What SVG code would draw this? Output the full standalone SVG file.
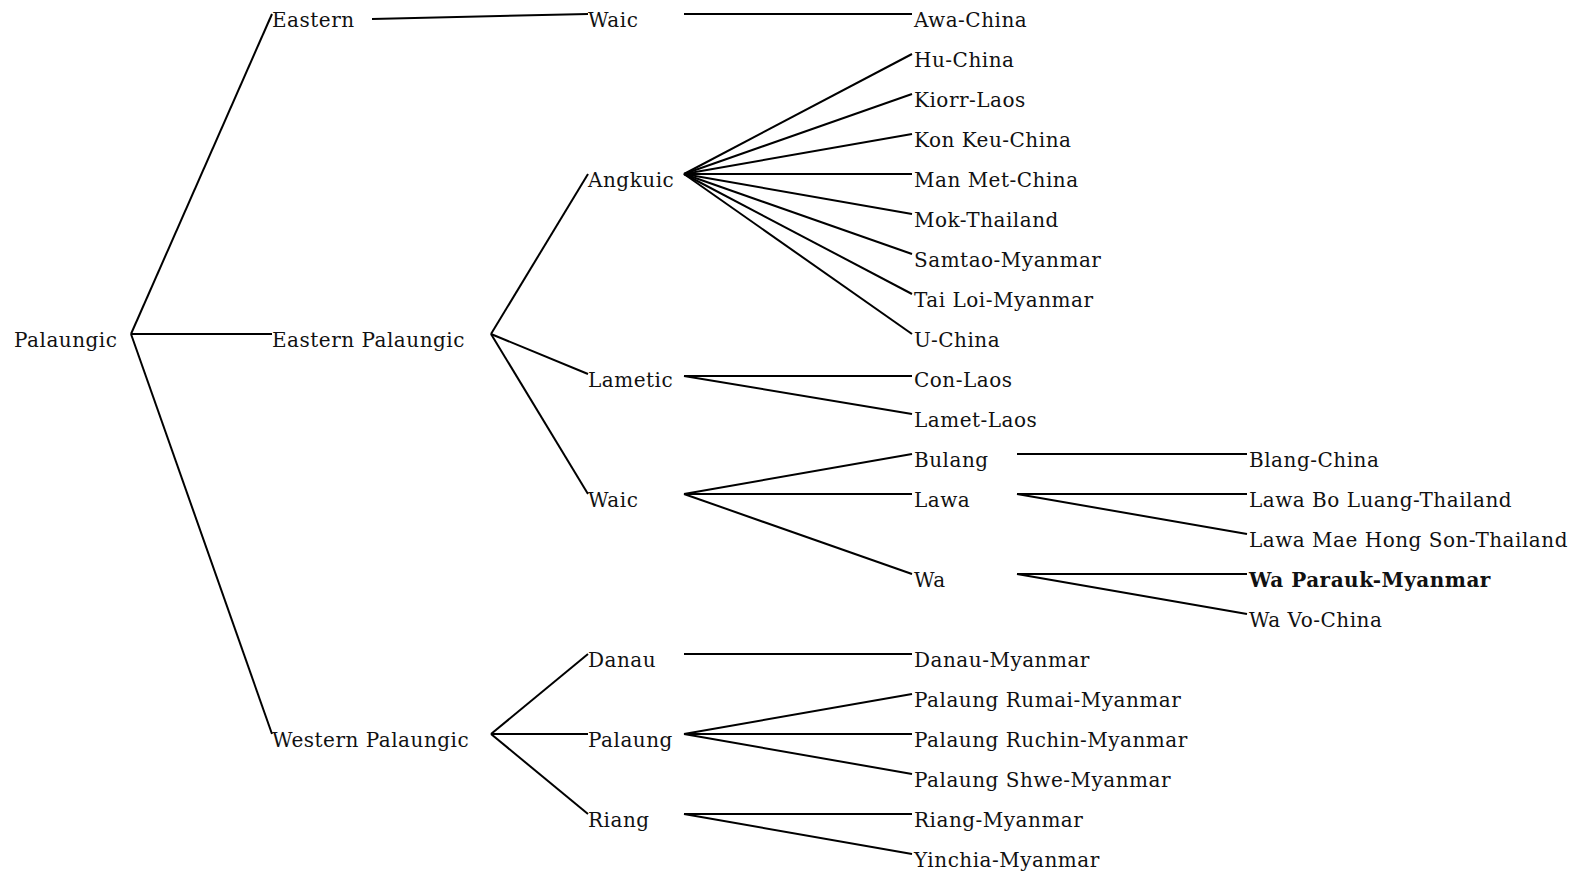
<svg xmlns="http://www.w3.org/2000/svg" width="1581" height="872" viewBox="0 0 1581 872">
<style>
text{font-family:"DejaVu Serif","Liberation Serif",serif;font-size:20px;letter-spacing:0.5px;fill:#111}
.b{font-weight:bold}
#edges line{stroke:#000;stroke-width:2}
</style>
<rect width="1581" height="872" fill="#fff"/>
<g id="edges">
<line x1="131" y1="334" x2="272" y2="14"/>
<line x1="131" y1="334" x2="272" y2="334"/>
<line x1="131" y1="334" x2="272" y2="734"/>
<line x1="372" y1="19" x2="588" y2="14"/>
<line x1="684" y1="14" x2="912" y2="14"/>
<line x1="491" y1="334" x2="588" y2="174"/>
<line x1="491" y1="334" x2="588" y2="374"/>
<line x1="491" y1="334" x2="588" y2="494"/>
<line x1="684" y1="174" x2="912" y2="54"/>
<line x1="684" y1="174" x2="912" y2="94"/>
<line x1="684" y1="174" x2="912" y2="134"/>
<line x1="684" y1="174" x2="912" y2="174"/>
<line x1="684" y1="174" x2="912" y2="214"/>
<line x1="684" y1="174" x2="912" y2="254"/>
<line x1="684" y1="174" x2="912" y2="294"/>
<line x1="684" y1="174" x2="912" y2="334"/>
<line x1="684" y1="376" x2="912" y2="376"/>
<line x1="684" y1="376" x2="912" y2="414"/>
<line x1="684" y1="494" x2="912" y2="454"/>
<line x1="684" y1="494" x2="912" y2="494"/>
<line x1="684" y1="494" x2="912" y2="574"/>
<line x1="1017" y1="454" x2="1247" y2="454"/>
<line x1="1017" y1="494" x2="1247" y2="494"/>
<line x1="1017" y1="494" x2="1247" y2="534"/>
<line x1="1017" y1="574" x2="1247" y2="574"/>
<line x1="1017" y1="574" x2="1247" y2="614"/>
<line x1="491" y1="734" x2="588" y2="654"/>
<line x1="491" y1="734" x2="588" y2="734"/>
<line x1="491" y1="734" x2="588" y2="814"/>
<line x1="684" y1="654" x2="912" y2="654"/>
<line x1="684" y1="734" x2="912" y2="694"/>
<line x1="684" y1="734" x2="912" y2="734"/>
<line x1="684" y1="734" x2="912" y2="774"/>
<line x1="684" y1="814" x2="912" y2="814"/>
<line x1="684" y1="814" x2="912" y2="854"/>
</g>
<g id="n-palaungic"><text x="14" y="347">Palaungic</text></g>
<g id="n-eastern"><text x="272" y="27">Eastern</text></g>
<g id="n-eastern-palaungic"><text x="272" y="347">Eastern Palaungic</text></g>
<g id="n-western-palaungic"><text x="272" y="747">Western Palaungic</text></g>
<g id="n-waic1"><text x="588" y="27">Waic</text></g>
<g id="n-angkuic"><text x="588" y="187">Angkuic</text></g>
<g id="n-lametic"><text x="588" y="387">Lametic</text></g>
<g id="n-waic2"><text x="588" y="507">Waic</text></g>
<g id="n-danau"><text x="588" y="667">Danau</text></g>
<g id="n-palaung"><text x="588" y="747">Palaung</text></g>
<g id="n-riang"><text x="588" y="827">Riang</text></g>
<g id="n-awa"><text x="914" y="27">Awa-China</text></g>
<g id="n-hu"><text x="914" y="67">Hu-China</text></g>
<g id="n-kiorr"><text x="914" y="107">Kiorr-Laos</text></g>
<g id="n-konkeu"><text x="914" y="147">Kon Keu-China</text></g>
<g id="n-manmet"><text x="914" y="187">Man Met-China</text></g>
<g id="n-mok"><text x="914" y="227">Mok-Thailand</text></g>
<g id="n-samtao"><text x="914" y="267">Samtao-Myanmar</text></g>
<g id="n-tailoi"><text x="914" y="307">Tai Loi-Myanmar</text></g>
<g id="n-u"><text x="914" y="347">U-China</text></g>
<g id="n-con"><text x="914" y="387">Con-Laos</text></g>
<g id="n-lamet"><text x="914" y="427">Lamet-Laos</text></g>
<g id="n-bulang"><text x="914" y="467">Bulang</text></g>
<g id="n-lawa"><text x="914" y="507">Lawa</text></g>
<g id="n-wa"><text x="914" y="587">Wa</text></g>
<g id="n-blang"><text x="1249" y="467">Blang-China</text></g>
<g id="n-lawabo"><text x="1249" y="507">Lawa Bo Luang-Thailand</text></g>
<g id="n-lawamae"><text x="1249" y="547">Lawa Mae Hong Son-Thailand</text></g>
<g id="n-waparauk"><text class="b" x="1249" y="587">Wa Parauk-Myanmar</text></g>
<g id="n-wavo"><text x="1249" y="627">Wa Vo-China</text></g>
<g id="n-danaum"><text x="914" y="667">Danau-Myanmar</text></g>
<g id="n-rumai"><text x="914" y="707">Palaung Rumai-Myanmar</text></g>
<g id="n-ruchin"><text x="914" y="747">Palaung Ruchin-Myanmar</text></g>
<g id="n-shwe"><text x="914" y="787">Palaung Shwe-Myanmar</text></g>
<g id="n-riangm"><text x="914" y="827">Riang-Myanmar</text></g>
<g id="n-yinchia"><text x="914" y="867">Yinchia-Myanmar</text></g>
</svg>
